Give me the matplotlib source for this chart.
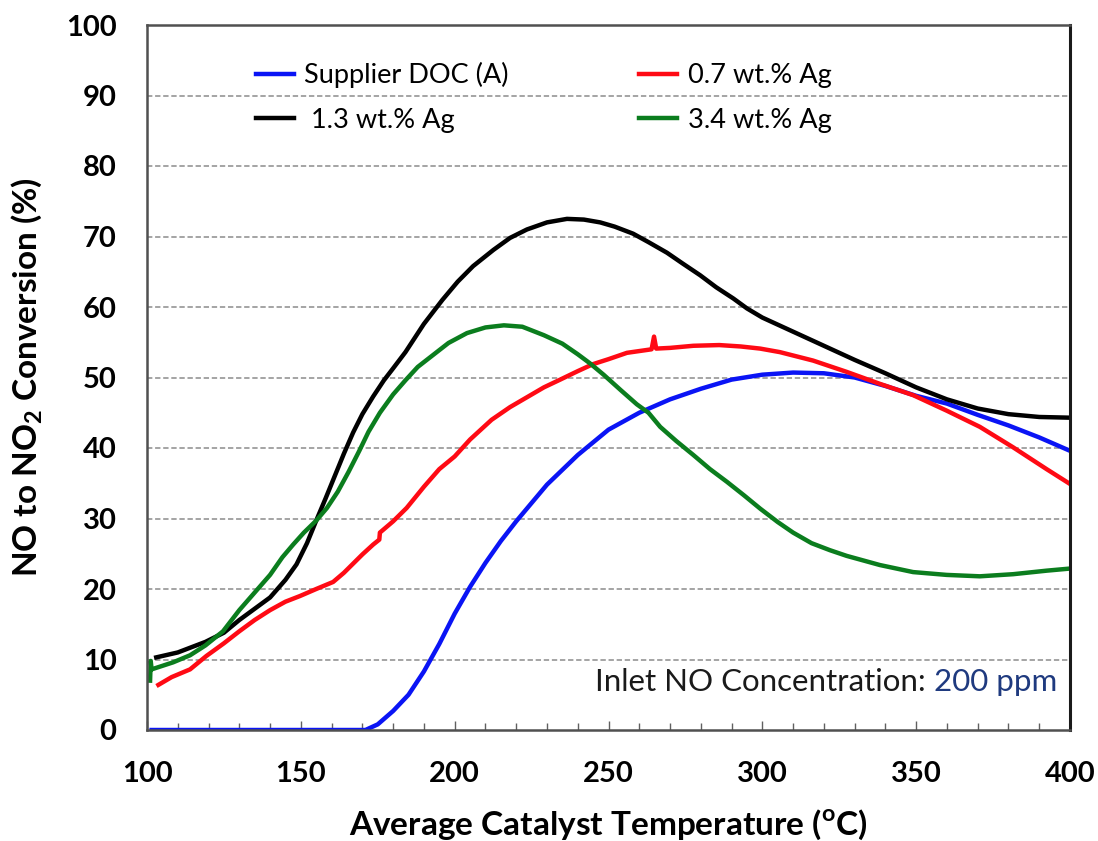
import matplotlib
matplotlib.use("Agg")
import matplotlib.pyplot as plt
from matplotlib.ticker import MultipleLocator

plt.rcParams['font.family'] = ['Lato', 'DejaVu Sans']
plt.rcParams['mathtext.fontset'] = 'custom'
plt.rcParams['mathtext.rm'] = 'Lato'
plt.rcParams['mathtext.bf'] = 'Lato:bold'

# Supplier DOC (A)
temp_a = [101.5, 171, 175, 180, 185, 190, 195, 200, 205, 210, 215, 220, 230, 240, 250,
          260, 270, 280, 290, 300, 310, 320, 330, 340, 350, 360, 370, 380, 390, 400]
conv_a = [0, 0, 0.8, 2.7, 5.0, 8.3, 12.2, 16.5, 20.3, 23.7, 26.8, 29.6, 34.8, 39.0, 42.6,
          45.0, 46.9, 48.4, 49.7, 50.4, 50.7, 50.6, 50.0, 48.8, 47.4, 46.3, 44.7, 43.2, 41.5, 39.6]

# 1.3 wt.% Ag
temp_13 = [103, 110, 119, 125, 130, 135, 140, 145, 148.6, 152, 155, 158, 161, 164, 167, 170,
           173.5, 177, 180, 184, 190, 196, 201, 206, 212.6, 218, 223.5, 230, 236.5, 242, 247.3,
           252, 258, 263, 269, 274, 279.8, 285, 290.6, 295, 300, 305, 310, 320, 330, 340, 350,
           360, 370, 380, 390, 400]
conv_13 = [10.3, 11.0, 12.5, 13.8, 15.6, 17.2, 18.8, 21.3, 23.5, 26.5, 29.7, 32.8, 36.0, 39.2,
           42.2, 44.8, 47.3, 49.6, 51.3, 53.6, 57.6, 61.0, 63.6, 65.8, 68.1, 69.8, 71.0, 72.0,
           72.5, 72.4, 72.0, 71.4, 70.4, 69.2, 67.7, 66.2, 64.5, 62.8, 61.2, 59.8, 58.5, 57.5,
           56.5, 54.5, 52.5, 50.6, 48.6, 46.9, 45.6, 44.8, 44.4, 44.3]

# 0.7 wt.% Ag
temp_07 = [103.7, 108, 114, 119.3, 125, 130, 135, 140, 145, 149.7, 155, 160.5, 164, 167, 170,
           173.5, 175.5, 175.7, 180, 184.4, 190, 195, 200, 205, 212, 218, 223.5, 229, 234.3,
           240, 245, 250, 256, 264, 264.8, 265.5, 270, 277.6, 286, 293, 299.3, 305.7, 316.5,
           327.4, 338.2, 349, 359.9, 370.7, 381.5, 392.4, 400]
conv_07 = [6.4, 7.5, 8.6, 10.5, 12.3, 14.0, 15.6, 17.0, 18.2, 19.0, 20.0, 21.0, 22.3, 23.6, 24.9,
           26.3, 27.0, 28.0, 29.6, 31.5, 34.5, 37.0, 38.8, 41.2, 44.0, 45.8, 47.2, 48.6, 49.7,
           50.9, 51.9, 52.6, 53.5, 54.0, 55.8, 54.1, 54.2, 54.5, 54.6, 54.4, 54.1, 53.6, 52.4,
           50.8, 49.1, 47.5, 45.3, 43.0, 40.1, 37.0, 34.9]

# 3.4 wt.% Ag
temp_34 = [101.0, 101.2, 101.5, 108.5, 114, 119, 124.7, 130, 135, 140, 144, 147.5, 151, 155,
           158.5, 162, 165.5, 169, 172, 175.7, 180, 184, 188, 193, 198, 204, 210, 216, 222,
           229, 235, 240, 244, 248.4, 254, 259.2, 263, 266.8, 272, 277.6, 283, 288.5, 294,
           299.3, 305, 310, 316, 322, 327.4, 338.2, 349, 359.9, 370.7, 381.5, 392.4, 400]
conv_34 = [7.0, 9.8, 8.6, 9.6, 10.6, 12.0, 14.0, 17.0, 19.5, 22.0, 24.5, 26.3, 28.0, 29.7,
           31.5, 33.8, 36.6, 39.6, 42.3, 45.0, 47.6, 49.6, 51.5, 53.2, 54.9, 56.3, 57.1, 57.4, 57.2,
           56.0, 54.8, 53.3, 52.0, 50.4, 48.2, 46.2, 45.0, 43.0, 41.0, 39.0, 37.0, 35.2, 33.3,
           31.4, 29.5, 28.0, 26.5, 25.5, 24.7, 23.4, 22.4, 22.0, 21.8, 22.1, 22.6, 22.9]

fig = plt.figure(figsize=(10.98, 8.41), dpi=100)
ax = fig.add_axes([147/1098, 1 - 730/841, 923/1098, 705/841])

lw = 3.2
ax.plot(temp_a, conv_a, color='#0A14F5', lw=lw, label='Supplier DOC (A)')
ax.plot(temp_13, conv_13, color='black', lw=lw, label=' 1.3 wt.% Ag')
ax.plot(temp_07, conv_07, color='#FF0A14', lw=lw, label='0.7 wt.% Ag')
ax.plot(temp_34, conv_34, color='#0B7D1E', lw=lw, label='3.4 wt.% Ag')

ax.set_xlim(100, 400)
ax.set_ylim(0, 100)
ax.xaxis.set_major_locator(MultipleLocator(50))
ax.xaxis.set_minor_locator(MultipleLocator(10))
ax.yaxis.set_major_locator(MultipleLocator(10))

for y in range(10, 100, 10):
    ax.axhline(y, color='#8C8C8C', lw=1.1, ls=(0, (3.5, 1.8)), zorder=0)

for side in ['left', 'bottom', 'top']:
    ax.spines[side].set_color('#505050')
    ax.spines[side].set_linewidth(1.8)
ax.spines['right'].set_color('#1A1A1A')
ax.spines['right'].set_linewidth(2.2)

ax.tick_params(axis='y', length=0, pad=22, labelsize=21)
ax.tick_params(axis='x', which='major', direction='in', length=6.5, width=1,
               color='#606060', pad=22, labelsize=21)
ax.tick_params(axis='x', which='minor', direction='in', length=5, width=1, color='#606060')
for lab in ax.get_xticklabels() + ax.get_yticklabels():
    lab.set_fontweight('bold')

ax.set_xlabel(r'Average Catalyst Temperature ($^\mathbf{o}$C)', fontsize=24, fontweight='bold')
ax.set_ylabel(r'NO to NO$_\mathbf{2}$ Conversion (%)', fontsize=24, fontweight='bold')
ax.xaxis.set_label_coords(0.5, -0.11)
ax.yaxis.set_label_coords(-0.11, 0.5)

ax.legend(loc='upper left', bbox_to_anchor=(0.106, 0.963), ncol=2, frameon=False,
          fontsize=19.5, handlelength=1.4, handletextpad=0.4, columnspacing=4.8,
          labelspacing=0.72, borderaxespad=0)

t2 = ax.text(0.986, 0.048, '200 ppm', transform=ax.transAxes, ha='right', va='bottom',
             fontsize=22.5, color='#1F3A7F')
ax.annotate('Inlet NO Concentration: ', xy=(0, 0), xycoords=t2, ha='right', va='bottom',
            fontsize=22.5, color='#1A1A1A')

fig.savefig('out.png', dpi=100)
